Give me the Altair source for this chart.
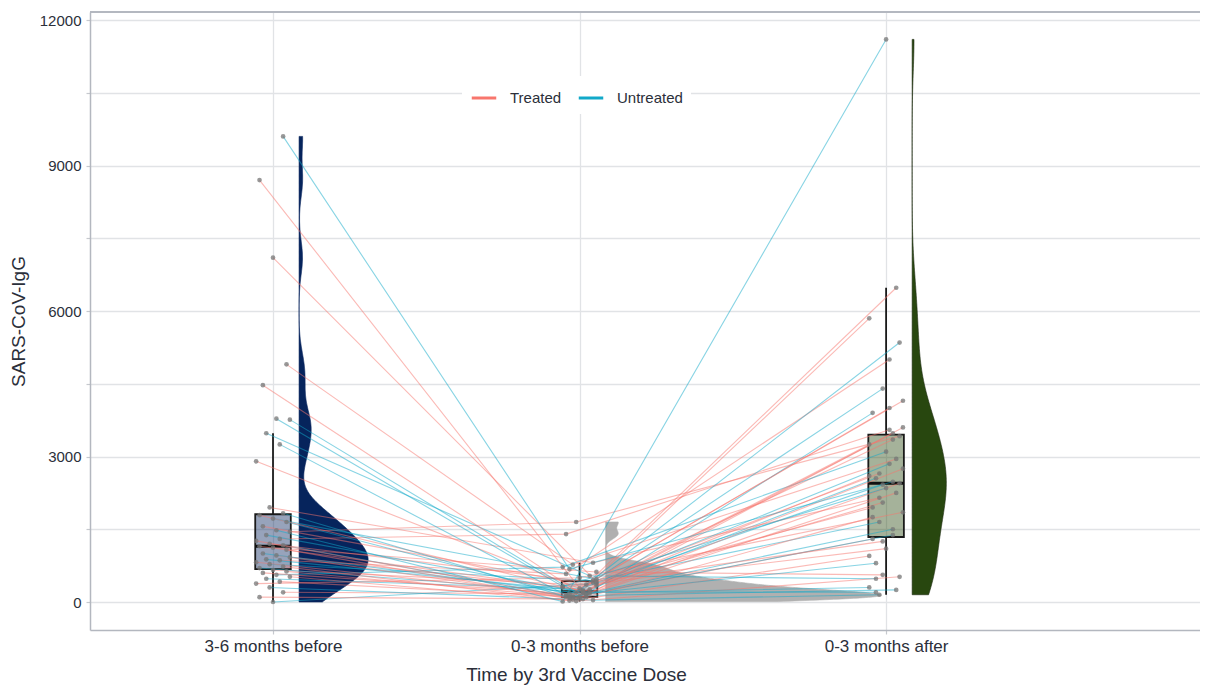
import altair as alt
import pandas as pd
import numpy as np

# ---------------- data ----------------
times = ["3-6 months before", "0-3 months before", "0-3 months after"]
groups = ["Treated", "Untreated"]

igg_t1 = [0, 100, 200, 300, 380, 420, 480, 520, 560, 600, 630, 660, 700, 730, 780,
          820, 860, 880, 920, 960, 1000, 1080, 1120, 1150, 1170, 1200, 1260, 1300,
          1380, 1450, 1480, 1560, 1650, 1720, 1790, 1830, 1950, 2900, 3250, 3480,
          3760, 3780, 4470, 4900, 7100, 8700, 9600]
igg_t2 = [380, 60, 170, 40, 500, 110, 260, 20, 720, 150, 95, 340, 190, 30, 440,
          120, 580, 210, 80, 300, 160, 50, 620, 240, 105, 400, 70, 1400, 180, 1650,
          10, 360, 130, 470, 220, 90, 810, 280, 140, 540, 195, 320, 100, 770, 420,
          200, 680]
igg_t3 = [2420, 950, 3350, 150, 1850, 4000, 2550, 520, 3100, 1300, 6480, 2050, 300,
          3480, 1650, 2750, 5000, 200, 2450, 1100, 3900, 2250, 560, 5850, 1500, 2650,
          3600, 3550, 800, 3420, 11600, 1950, 250, 4400, 2600, 1380, 2150, 4150, 2850,
          480, 5350, 2350, 1750, 2950, 1250, 3250, 2480]
status = ["U", "T", "T", "U", "T", "T", "U", "T", "U", "T", "T", "T", "U", "T", "U",
          "T", "T", "U", "T", "T", "U", "T", "T", "T", "U", "T", "T", "T", "U", "T",
          "U", "T", "U", "U", "T", "U", "T", "T", "U", "U", "U", "U", "T", "T", "T",
          "T", "U"]

line_colors = ["#F8766D", "#12A9C9"]
violin_colors = ["#06245c", "#a8a8a8", "#28470f"]

# ---------------- tables ----------------
series = [igg_t1, igg_t2, igg_t3]
n = len(igg_t1)
rows = []
for i in range(n):
    for t, vals in enumerate(series, start=1):
        jit = (((i * 7 + t * 5) % 11) - 5) * 0.011
        rows.append({"id": i, "t": t, "x": t + jit, "v": vals[i],
                     "group": groups[0] if status[i] == "T" else groups[1]})
long_df = pd.DataFrame(rows)


def kde(vals):
    a = np.asarray(vals, dtype=float)
    m = len(a)
    sd = a.std(ddof=1)
    q75, q25 = np.percentile(a, [75, 25])
    bw = 0.9 * min(sd, (q75 - q25) / 1.34) * m ** -0.2
    grid = np.linspace(a.min(), a.max(), 400)
    d = np.exp(-0.5 * ((grid[:, None] - a[None, :]) / bw) ** 2).sum(1) / (m * bw * np.sqrt(2 * np.pi))
    return grid, d


dens = [kde(s) for s in series]
dmax = max(d.max() for _, d in dens)
vscale = 0.9 / dmax
vrows = []
for t, (g, d) in enumerate(dens, start=1):
    for yv, dv in zip(g, d):
        vrows.append({"t": t, "yv": yv, "xa": t + 0.085, "xb": t + 0.085 + dv * vscale})
viol_df = pd.DataFrame(vrows)

brows = []
for t, s in enumerate(series, start=1):
    a = np.asarray(s, dtype=float)
    q1, med, q3 = np.percentile(a, [25, 50, 75])
    iqr = q3 - q1
    hi = a[a <= q3 + 1.5 * iqr].max()
    lo = a[a >= q1 - 1.5 * iqr].min()
    brows.append({"t": t, "q1": q1, "med": med, "q3": q3, "lo": lo, "hi": hi,
                  "xl": t - 0.058, "xr": t + 0.058})
box_df = pd.DataFrame(brows)

# ---------------- scales / axes ----------------
W, H = 1110, 618
FONT = "Liberation Sans"
label_expr = " : ".join(
    [f"datum.value == {k} ? '{name}'" for k, name in enumerate(times[:-1], start=1)]
) + f" : '{times[-1]}'"

XS = alt.Scale(domain=[0.403, 4.024], nice=False, zero=False)
YS = alt.Scale(domain=[-577, 12165], nice=False, zero=False)
XA = alt.Axis(values=[1, 2, 3], labelExpr=label_expr, title="Time by 3rd Vaccine Dose",
              grid=True, ticks=True, tickSize=4, labelPadding=4, labelFontSize=17,
              titleFontSize=19, titlePadding=11, titleX=486, titleAnchor="start",
              titleAlign="center")
YA = alt.Axis(values=list(range(0, 12001, 1500)), format="d",
              labelExpr="datum.value % 3000 == 0 ? datum.label : ''",
              title="SARS-CoV-IgG", grid=True, ticks=True, tickSize=4, labelPadding=5,
              labelFontSize=15, titleFontSize=19, titlePadding=11)


def X(f):
    return alt.X(f"{f}:Q", scale=XS, axis=XA)


def Y(f):
    return alt.Y(f"{f}:Q", scale=YS, axis=YA)


layers = []
# violins
for t, c in enumerate(violin_colors, start=1):
    op = 0.9 if t == 2 else 1.0
    layers.append(
        alt.Chart(viol_df[viol_df.t == t]).mark_area(
            orient="horizontal", color=c, opacity=op, stroke="#1c2a10" if t == 3 else c,
            strokeWidth=0.6)
        .encode(y=Y("yv"), x=X("xa"), x2="xb")
    )

# boxes
box_fill = alt.Fill("t:N", scale=alt.Scale(domain=[1, 2, 3], range=violin_colors), legend=None)
layers.append(
    alt.Chart(box_df).mark_rule(color="#1a1a1a", strokeWidth=1.8)
    .encode(x=X("t"), y=Y("q3"), y2="hi")
)
layers.append(
    alt.Chart(box_df).mark_rule(color="#1a1a1a", strokeWidth=1.8)
    .encode(x=X("t"), y=Y("lo"), y2="q1")
)
layers.append(
    alt.Chart(box_df).mark_rect(fillOpacity=0.42, stroke="#1a1a1a", strokeWidth=1.8)
    .encode(x=X("xl"), x2="xr", y=Y("q1"), y2="q3", fill=box_fill)
)
layers.append(
    alt.Chart(box_df).mark_rule(color="#111111", strokeWidth=3)
    .encode(x=X("xl"), x2="xr", y=Y("med"))
)

# paired lines
layers.append(
    alt.Chart(long_df).mark_line(strokeWidth=1.1, opacity=0.5)
    .encode(
        x=X("x"), y=Y("v"), detail="id:N", order="t:Q",
        color=alt.Color("group:N", scale=alt.Scale(domain=groups, range=line_colors),
                        legend=alt.Legend(orient="none", legendX=372, legendY=64,
                                          direction="horizontal", title=None,
                                          symbolType="stroke", symbolSize=600,
                                          symbolStrokeWidth=3, symbolOpacity=1,
                                          labelFontSize=15, labelFont=FONT,
                                          labelColor="#2b2f3a", fillColor="white",
                                          padding=8, columnPadding=10, labelOffset=12)),
    )
)

# points
layers.append(
    alt.Chart(long_df).mark_circle(color="#767676", opacity=0.75, size=22)
    .encode(x=X("x"), y=Y("v"))
)

# top frame line
layers.append(
    alt.Chart(box_df).mark_rule(color="#b3b7bf", strokeWidth=1.5)
    .encode(x=alt.value(0), x2=alt.value(W), y=alt.value(0))
)

chart = (
    alt.layer(*layers)
    .properties(width=W, height=H, autosize="none",
                padding={"left": 82, "top": 4, "right": 0, "bottom": 60})
    .configure_view(stroke=None)
    .configure_axis(
        gridColor="#e1e3e6", gridWidth=1.3, domainColor="#b3b7bf", domainWidth=1.5,
        tickColor="#c6c9ce", tickWidth=1.2,
        labelFont=FONT, titleFont=FONT,
        labelColor="#2b2f3a", titleColor="#2b2f3a", titleFontWeight="normal",
    )
)

chart.save("out.html", embed_options={"renderer": "svg", "actions": False})
